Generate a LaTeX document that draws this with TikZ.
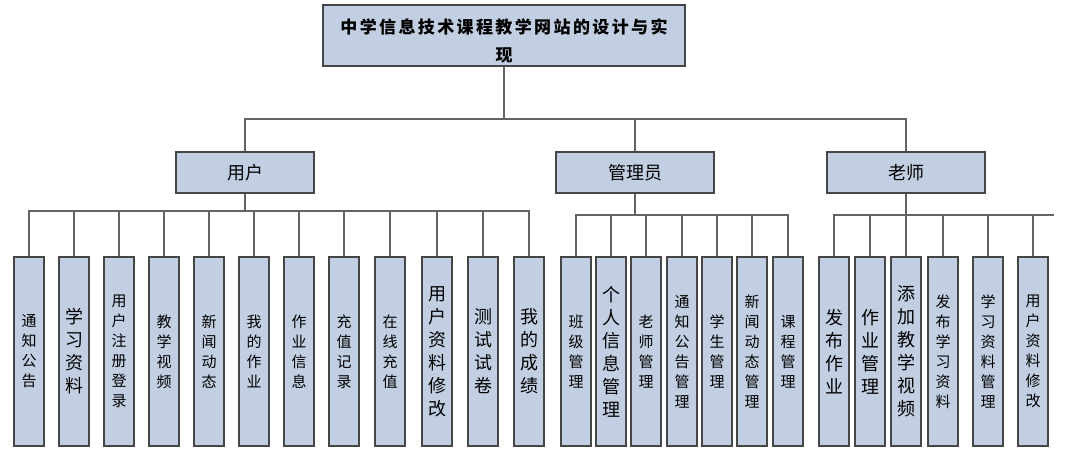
\documentclass[tikz,border=0pt]{standalone}
\usepackage{fontspec}
\newfontfamily\cjk{Noto Sans CJK SC}
\usepackage{tikz}
\usetikzlibrary{positioning, calc}
\definecolor{box_fill}{RGB}{194, 207, 226}
\definecolor{box_line}{RGB}{70, 70, 70}
\definecolor{bus_line}{RGB}{100, 100, 100}
\tikzset{
  rootbox/.style={draw=box_line, fill=box_fill, line width=1.2pt,
    minimum width=362pt, minimum height=61pt, inner sep=0pt, align=center,
    font=\cjk\bfseries\fontsize{17}{28}\selectfont\addfontfeature{LetterSpace=14}},
  rolebox/.style={draw=box_line, fill=box_fill, line width=1.1pt,
    minimum height=41pt, inner sep=0pt, font=\cjk\fontsize{18}{22}\selectfont},
  leafbox/.style={draw=box_line, fill=box_fill, line width=1.1pt,
    minimum width=30pt, minimum height=189pt, inner sep=0pt, align=center,
    font=\cjk\fontsize{15}{20}\selectfont},
  bigleaf/.style={leafbox, font=\cjk\fontsize{18}{23}\selectfont},
  bus/.style={draw=bus_line, line width=1.2pt},
}
\begin{document}
\begin{tikzpicture}[x=1pt, y=-1pt]
\useasboundingbox (0,0) rectangle (1072,462);
% top
\node[rootbox] (root) at (504, 35.5) {\rule{0pt}{25pt}中学信息技术课程教学网站的设计与实\\现};
\node[rolebox, minimum width=138pt] (user) at (245, 172.5) {用户};
\node[rolebox, minimum width=158pt] (admin) at (635, 172.5) {管理员};
\node[rolebox, minimum width=158pt] (teacher) at (906, 172.5) {老师};
% user
\node[leafbox] (u1) at (29, 351.5) {通\\知\\公\\告};
\node[bigleaf] (u2) at (74, 351.5) {学\\习\\资\\料};
\node[leafbox] (u3) at (119, 351.5) {用\\户\\注\\册\\登\\录};
\node[leafbox] (u4) at (164, 351.5) {教\\学\\视\\频};
\node[leafbox] (u5) at (209, 351.5) {新\\闻\\动\\态};
\node[leafbox] (u6) at (254, 351.5) {我\\的\\作\\业};
\node[leafbox] (u7) at (299, 351.5) {作\\业\\信\\息};
\node[leafbox] (u8) at (344, 351.5) {充\\值\\记\\录};
\node[leafbox] (u9) at (390, 351.5) {在\\线\\充\\值};
\node[bigleaf] (u10) at (437, 351.5) {用\\户\\资\\料\\修\\改};
\node[bigleaf] (u11) at (483, 351.5) {测\\试\\试\\卷};
\node[bigleaf] (u12) at (529, 351.5) {我\\的\\成\\绩};
% admin
\node[leafbox] (a1) at (576, 351.5) {班\\级\\管\\理};
\node[bigleaf] (a2) at (611, 351.5) {个\\人\\信\\息\\管\\理};
\node[leafbox] (a3) at (646, 351.5) {老\\师\\管\\理};
\node[leafbox] (a4) at (682, 351.5) {通\\知\\公\\告\\管\\理};
\node[leafbox] (a5) at (717, 351.5) {学\\生\\管\\理};
\node[leafbox] (a6) at (752, 351.5) {新\\闻\\动\\态\\管\\理};
\node[leafbox] (a7) at (788, 351.5) {课\\程\\管\\理};
% teacher
\node[bigleaf] (t1) at (834, 351.5) {发\\布\\作\\业};
\node[bigleaf] (t2) at (870, 351.5) {作\\业\\管\\理};
\node[bigleaf] (t3) at (906, 351.5) {添\\加\\教\\学\\视\\频};
\node[leafbox] (t4) at (943, 351.5) {发\\布\\学\\习\\资\\料};
\node[leafbox] (t5) at (988, 351.5) {学\\习\\资\\料\\管\\理};
\node[leafbox] (t6) at (1033, 351.5) {用\\户\\资\\料\\修\\改};
% connectors
\coordinate (rbus) at (504, 119);
\coordinate (ubus) at (245, 211);
\coordinate (abus) at (635, 215);
\coordinate (tbus) at (906, 215);
\coordinate (tend) at (1054, 215);
\draw[bus] (root.south) -- (rbus);
\draw[bus] (user.north) |- (rbus) -| (teacher.north);
\draw[bus] (admin.north) -- (admin.north |- rbus);
\draw[bus] (user.south) -- (ubus);
\draw[bus] (u1.north) |- (ubus) -| (u12.north);
\foreach \n in {u2,u3,u4,u5,u6,u7,u8,u9,u10,u11}
  \draw[bus] (\n.north) -- (\n.north |- ubus);
\draw[bus] (admin.south) -- (abus);
\draw[bus] (a1.north) |- (abus) -| (a7.north);
\foreach \n in {a2,a3,a4,a5,a6}
  \draw[bus] (\n.north) -- (\n.north |- abus);
\draw[bus] (teacher.south) -- (tbus);
\draw[bus] (t1.north) |- (tbus) -- (tend);
\foreach \n in {t2,t3,t4,t5,t6}
  \draw[bus] (\n.north) -- (\n.north |- tbus);
\end{tikzpicture}
\end{document}
